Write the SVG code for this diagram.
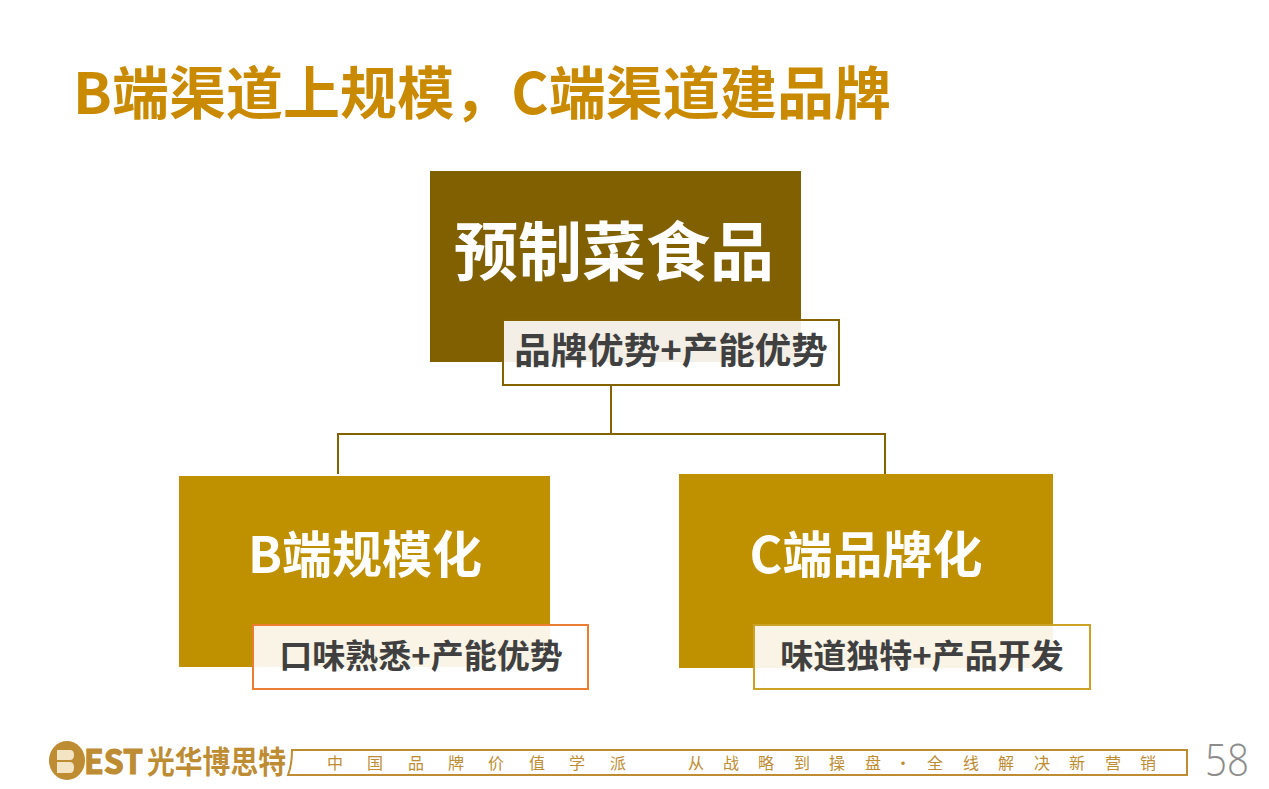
<svg xmlns="http://www.w3.org/2000/svg" width="1269" height="789" viewBox="0 0 1269 789">
<style>
text{font-family:"Noto Sans CJK SC","Noto Sans",sans-serif}
.b{font-weight:700}
.w{fill:#fff;font-weight:700;text-anchor:middle}
.c{fill:#404040;font-weight:700;font-size:33px;text-anchor:middle}
.note{fill:#fff;fill-opacity:.9;stroke-width:2}
.f{fill:#bd8c33;font-size:16px;text-anchor:middle}
.l{fill:none;stroke:#846200;stroke-width:2}
</style>
<rect width="1269" height="789" fill="#fff"/>
<text id="title" class="b" x="73" y="114" font-size="57" fill="#c98a00" textLength="818">B端渠道上规模，C端渠道建品牌</text>
<g id="connectors"><path class="l" d="M611 385V434M338 474V434H885V474"/></g>
<g id="node-top">
<rect x="430" y="171" width="371" height="191" fill="#806000"/>
<text class="w" x="614" y="275" font-size="64">预制菜食品</text>
<rect class="note" x="503" y="320" width="336" height="65" stroke="#846200"/>
<text class="c" x="671" y="364" style="font-size:36.5px">品牌优势+产能优势</text>
</g>
<g id="node-b">
<rect x="179" y="476" width="371" height="191" fill="#bf9000"/>
<text class="w" x="365" y="573" font-size="50">B端规模化</text>
<rect class="note" x="253" y="625" width="335" height="64" stroke="#ed7d31"/>
<text class="c" x="421" y="668">口味熟悉+产能优势</text>
</g>
<g id="node-c">
<rect x="679" y="474" width="374" height="194" fill="#bf9000"/>
<text class="w" x="866" y="573" font-size="50">C端品牌化</text>
<rect class="note" x="754" y="625" width="336" height="64" stroke="#c9a227"/>
<text class="c" x="922" y="668">味道独特+产品开发</text>
</g>
<g id="footer">
<ellipse cx="67" cy="760.500" rx="18" ry="19.500" fill="#bd8c33"/>
<path d="M57 750H70Q74 750 74 755T70 760H57ZM57 762H70Q74 762 74 767.500T70 773H57Z" fill="#f3e4c4"/>
<text class="b" x="84" y="774" font-size="34" fill="#bd8c33" stroke="#bd8c33" stroke-width="1.200" textLength="59" lengthAdjust="spacingAndGlyphs">EST</text>
<text class="b" x="147" y="773" font-size="31" fill="#bd8c33" textLength="139" lengthAdjust="spacingAndGlyphs">光华博思特</text>
<path d="M292 750H1187V775H288Q292 765 292 750Z" fill="#fff" stroke="#bd8c33" stroke-width="2"/>
<text class="f" x="335" y="769">中</text><text class="f" x="375" y="769">国</text><text class="f" x="416" y="769">品</text><text class="f" x="456" y="769">牌</text><text class="f" x="496" y="769">价</text><text class="f" x="537" y="769">值</text><text class="f" x="577" y="769">学</text><text class="f" x="618" y="769">派</text>
<text class="f" x="696" y="769">从</text><text class="f" x="731" y="769">战</text><text class="f" x="766" y="769">略</text><text class="f" x="802" y="769">到</text><text class="f" x="837" y="769">操</text><text class="f" x="873" y="769">盘</text><text class="f" x="903" y="769">·</text><text class="f" x="935" y="769">全</text><text class="f" x="971" y="769">线</text><text class="f" x="1006" y="769">解</text><text class="f" x="1042" y="769">决</text><text class="f" x="1077" y="769">新</text><text class="f" x="1113" y="769">营</text><text class="f" x="1148" y="769">销</text>
<text x="1205" y="776" font-size="44" fill="#8c8c8c" textLength="44" lengthAdjust="spacingAndGlyphs" style="font-family:'Open Sans',sans-serif;font-weight:300">58</text>
</g>
</svg>
